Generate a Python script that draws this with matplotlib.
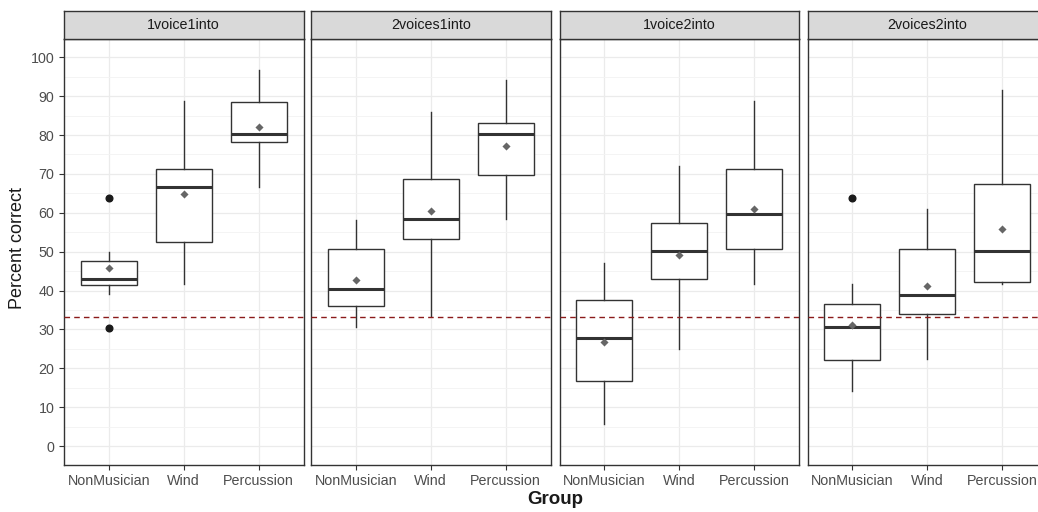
import matplotlib
matplotlib.use("Agg")
import matplotlib.pyplot as plt
from matplotlib.ticker import MultipleLocator

plt.rcParams['font.family'] = ['Liberation Sans', 'DejaVu Sans']

facets = ["1voice1into", "2voices1into", "1voice2into", "2voices2into"]
groups = ["NonMusician", "Wind", "Percussion"]

# per facet, per group: [whisker_low, q1, median, q3, whisker_high]
box_stats = {
    "1voice1into":  [[39.0, 41.4, 43.0, 47.7, 50.0], [41.6, 52.6, 66.7, 71.3, 88.7], [66.7, 78.3, 80.3, 88.5, 96.8]],
    "2voices1into": [[30.7, 36.0, 40.4, 50.6, 58.1], [33.4, 53.2, 58.3, 68.6, 85.9], [58.3, 69.8, 80.3, 83.1, 94.1]],
    "1voice2into":  [[5.7, 16.7, 27.9, 37.5, 47.2], [25.0, 42.9, 50.1, 57.5, 72.1], [41.6, 50.6, 59.8, 71.3, 88.7]],
    "2voices2into": [[14.1, 22.1, 30.7, 36.6, 41.6], [22.3, 33.9, 38.9, 50.6, 60.9], [41.8, 42.2, 50.1, 67.3, 91.5]],
}
means = {
    "1voice1into":  [45.8, 64.8, 82.1],
    "2voices1into": [42.6, 60.5, 77.1],
    "1voice2into":  [26.7, 49.1, 60.9],
    "2voices2into": [31.1, 41.1, 55.9],
}
outliers = {
    "1voice1into":  [[63.75, 30.5], [], []],
    "2voices1into": [[], [], []],
    "1voice2into":  [[], [], []],
    "2voices2into": [[63.75], [], []],
}
chance = 33.33
y_ticks = list(range(0, 101, 10))

W, H = 1038, 512
fig = plt.figure(figsize=(W / 100, H / 100), dpi=100)

panel_left = [64, 311, 559.5, 807.5]
panel_w = 239.5
panel_top, panel_bot = 39, 465
strip_top = 11

dark = "#333333"
for i, f in enumerate(facets):
    x0 = panel_left[i]
    ax = fig.add_axes([x0 / W, 1 - panel_bot / H, panel_w / W, (panel_bot - panel_top) / H])
    sax = fig.add_axes([x0 / W, 1 - panel_top / H, panel_w / W, (panel_top - strip_top) / H])
    sax.set_facecolor("#D9D9D9")
    sax.set_xticks([]); sax.set_yticks([])
    for sp in sax.spines.values():
        sp.set_color(dark); sp.set_linewidth(1.0)
    sax.text(0.5, 0.5, f, ha="center", va="center", fontsize=10.3, color="#1A1A1A",
             transform=sax.transAxes)

    stats = []
    for g, s in enumerate(box_stats[f]):
        stats.append(dict(whislo=s[0], q1=s[1], med=s[2], q3=s[3], whishi=s[4],
                          fliers=outliers[f][g], label=groups[g]))
    ax.bxp(stats, positions=[1, 2, 3], widths=0.75, showcaps=False, patch_artist=True,
           boxprops=dict(facecolor="white", edgecolor=dark, linewidth=1.0),
           whiskerprops=dict(color=dark, linewidth=1.0),
           medianprops=dict(color=dark, linewidth=2.2),
           flierprops=dict(marker="o", markerfacecolor="#1A1A1A", markeredgecolor="#1A1A1A",
                           markersize=4.8),
           zorder=3)
    ax.scatter([1, 2, 3], means[f], marker="D", s=17, color="#666666", zorder=5, linewidths=0)
    ax.axhline(chance, color="#8B1A1A", linestyle=(0, (4, 3)), linewidth=1.0, zorder=4)

    ax.set_xlim(0.4, 3.6)
    ax.set_ylim(-4.85, 104.7)
    ax.set_yticks(y_ticks)
    ax.yaxis.set_minor_locator(MultipleLocator(5))
    ax.set_xticks([1, 2, 3])
    ax.set_xticklabels(groups)
    ax.grid(True, which="major", color="#EBEBEB", linewidth=0.9, zorder=0)
    ax.grid(True, which="minor", axis="y", color="#F3F3F3", linewidth=0.6, zorder=0)
    ax.set_axisbelow(True)
    for sp in ax.spines.values():
        sp.set_color(dark); sp.set_linewidth(1.0)
    ax.tick_params(axis="both", which="major", colors="#333333", labelcolor="#4D4D4D",
                   labelsize=10.3, length=3.5, width=0.8)
    ax.tick_params(axis="y", which="minor", length=0)
    ax.tick_params(axis="x", pad=3)
    if i > 0:
        ax.tick_params(axis="y", which="both", left=False, labelleft=False)

fig.text(18 / W, 1 - 248 / H, "Percent correct", rotation=90, ha="center", va="center",
         fontsize=13, color="#1A1A1A")
fig.text(555 / W, 1 - 503.5 / H, "Group", ha="center", va="baseline", fontsize=13.5,
         fontweight="bold", color="#1A1A1A")

fig.savefig("out.png", dpi=100)
